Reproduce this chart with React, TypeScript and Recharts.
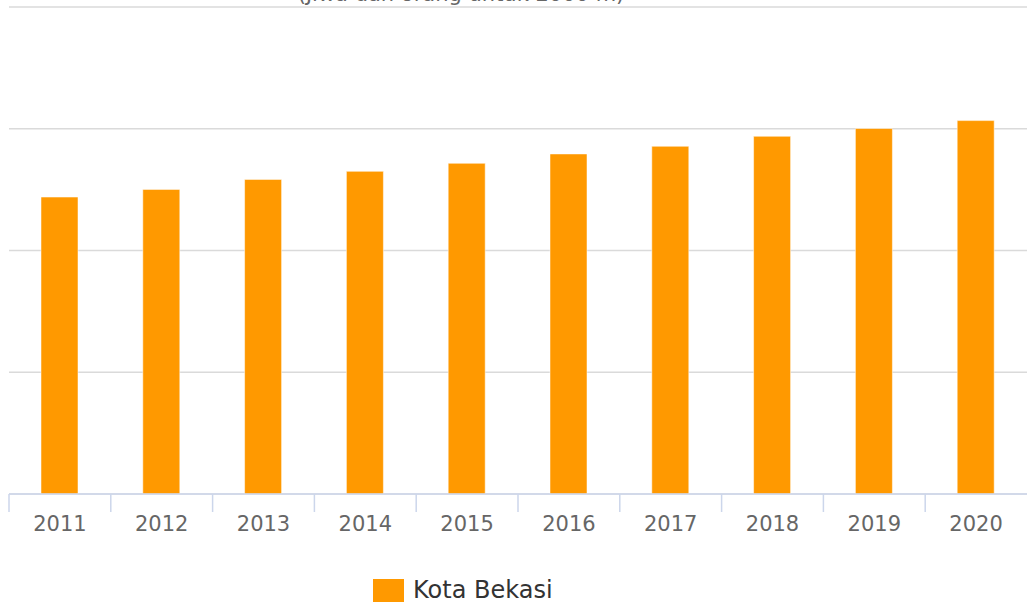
import { BarChart, Bar, XAxis, YAxis, CartesianGrid, Legend } from 'recharts'

const YEARS = ['2011', '2012', '2013', '2014', '2015', '2016', '2017', '2018', '2019', '2020']
// population, thousands
const KOTA_BEKASI = [2439, 2502, 2584, 2650, 2716, 2793, 2856, 2938, 3002, 3067]
const Y_TICKS = [0, 1000, 2000, 3000, 4000]
const SERIES_NAME = 'Kota Bekasi'
const SUBTITLE = '(Jiwa dan orang untuk 2000 m)'

const data = YEARS.map((year, i) => ({ year, value: KOTA_BEKASI[i] }))

const FONT = '"DejaVu Sans", Verdana, sans-serif'
const AXIS_COLOR = '#ccd6eb'

/** Highcharts-style tick: tick mark on the left edge of each category, label centred */
function YearTick(props: any) {
  const { x, y, payload } = props
  const half = payload?.offset ?? 50.9
  return (
    <g>
      <line x1={x - half} x2={x - half} y1={y - 8} y2={y + 10} stroke={AXIS_COLOR} strokeWidth={1.5} />
      <text x={x} y={y + 29} textAnchor="middle" fill="#666" fontSize={21} fontFamily={FONT}>
        {payload.value}
      </text>
    </g>
  )
}

function LegendBox() {
  return (
    <div style={{ height: 40, display: 'flex', alignItems: 'flex-start', paddingLeft: 364, paddingTop: 13, boxSizing: 'border-box' }}>
      <span style={{ width: 31, height: 23, background: '#ff9900', display: 'inline-block', marginRight: 9 }} />
      <span style={{ fontFamily: FONT, fontSize: 24, lineHeight: '23px', color: '#333' }}>{SERIES_NAME}</span>
    </div>
  )
}

export default function App() {
  return (
    <div style={{ position: 'absolute', left: 0, top: 0, width: 1027, height: 606, background: '#fff' }}>
      <BarChart
        width={1027}
        height={606}
        data={data}
        margin={{ top: 7, right: 0, left: 9, bottom: 0 }}
        barSize={37}
      >
        <text x={461} y={1} textAnchor="middle" fill="#666" fontSize={21} fontFamily={FONT}>
          {SUBTITLE}
        </text>
        <CartesianGrid vertical={false} stroke="#dadada" strokeWidth={1.5} />
        <XAxis
          dataKey="year"
          height={72}
          axisLine={{ stroke: AXIS_COLOR, strokeWidth: 1.5 }}
          tickLine={false}
          tick={<YearTick />}
          interval={0}
        />
        <YAxis hide domain={[0, 4000]} ticks={Y_TICKS} />
        <Legend verticalAlign="bottom" height={40} content={() => <LegendBox />} />
        <Bar dataKey="value" name={SERIES_NAME} fill="#ff9900" stroke="#ffffff" strokeOpacity={0.5} isAnimationActive={false} />
      </BarChart>
    </div>
  )
}
